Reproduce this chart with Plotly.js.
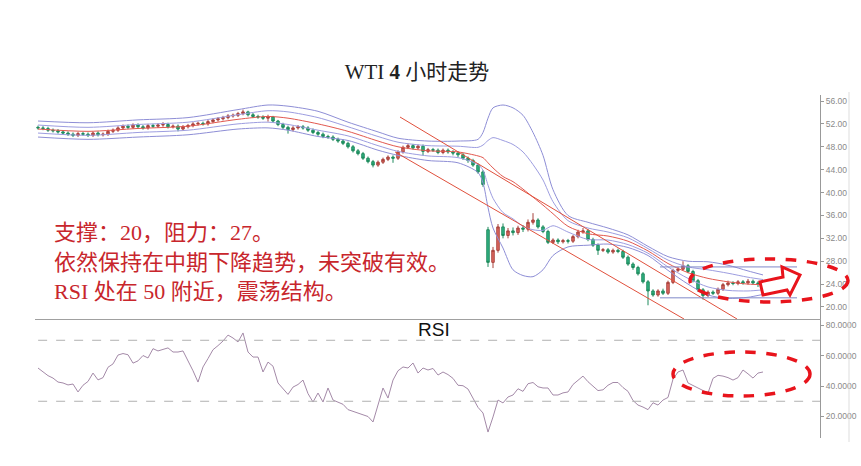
<!DOCTYPE html>
<html><head><meta charset="utf-8">
<script src="https://cdn.plot.ly/plotly-3.0.1.min.js"></script>
<style>body{margin:0;background:#fff}#chart{width:861px;height:466px}</style>
</head><body><div id="chart"></div>
<script>
// ---- WTI 4H candles ----
const openP = [51.4,51.3,51.2,50.9,50.8,50.6,50.4,50.2,50.0,50.3,
 50.2,50.0,50.4,50.1,50.2,50.7,50.9,51.3,51.6,51.4,
 51.8,51.5,51.3,51.7,51.6,51.8,51.9,51.5,51.6,51.1,
 51.5,51.7,52.0,52.1,52.0,52.4,52.7,52.9,53.1,53.4,
 53.5,53.8,54.1,53.6,53.3,53.2,53.0,53.2,52.5,51.9,
 51.4,51.0,51.3,51.5,51.3,50.9,50.5,50.2,49.8,49.7,
 49.3,49.0,48.6,48.0,47.3,46.8,46.0,45.4,44.8,45.3,
 45.8,46.2,46.0,47.1,47.9,48.2,47.8,48.1,47.2,47.5,
 47.4,47.0,47.4,47.1,46.9,46.6,46.0,45.6,44.8,43.6,
 33.5,27.8,29.9,34.0,32.5,33.3,33.0,33.8,33.6,34.8,
 35.2,34.0,33.2,31.3,31.7,31.4,31.6,31.5,32.3,33.1,
 33.3,31.8,30.8,29.9,30.0,29.6,29.9,29.7,28.7,27.5,
 26.9,25.8,24.4,22.8,22.1,22.8,22.4,24.3,26.4,26.6,
 27.2,26.2,24.6,23.0,22.0,22.6,22.4,23.1,23.9,24.2,
 24.1,24.4,24.2,24.5,24.2,24.1];
const highP = [51.7,51.6,51.5,51.2,51.1,50.9,50.7,50.5,50.6,50.6,
 50.5,50.7,50.7,50.5,51.0,51.2,51.6,51.9,51.9,52.1,
 52.1,51.8,52.0,52.0,52.1,52.3,52.2,51.9,51.9,51.8,
 52.0,52.3,52.4,52.4,52.7,53.0,53.2,53.4,53.7,53.8,
 54.1,54.5,54.3,53.9,53.6,53.5,53.6,53.4,52.7,52.2,
 51.7,51.6,51.8,51.8,51.6,51.2,50.8,50.5,50.1,50.0,
 49.6,49.3,48.9,48.3,47.6,47.1,46.3,45.7,45.6,46.1,
 46.5,46.5,47.4,48.2,48.6,48.5,48.4,48.4,47.8,47.8,
 47.7,47.7,47.7,47.4,47.2,46.9,46.3,45.9,45.1,43.9,
 34.0,30.5,34.5,34.6,33.8,33.9,34.2,34.3,35.3,36.4,
 35.5,34.3,33.5,32.0,32.0,31.9,31.9,32.6,33.5,33.8,
 33.6,32.1,31.1,30.3,30.3,30.2,30.2,30.0,29.0,27.8,
 27.2,26.1,24.7,23.1,23.1,23.2,24.6,26.7,27.0,28.0,
 27.5,26.5,24.9,23.3,22.9,22.9,23.4,24.2,24.6,24.5,
 24.7,24.7,24.9,24.8,24.5,24.7];
const lowP = [51.0,50.9,50.6,50.5,50.3,50.1,49.9,49.7,49.7,49.9,
 49.7,49.7,49.8,49.8,49.9,50.4,50.6,51.0,51.1,51.1,
 51.2,51.0,51.0,51.3,51.3,51.5,51.2,51.2,50.7,50.8,
 51.2,51.4,51.7,51.7,51.7,52.1,52.4,52.6,52.8,53.1,
 53.2,53.5,53.3,53.0,52.9,52.7,52.4,52.2,51.6,51.1,
 50.3,50.7,51.0,51.0,50.6,50.2,49.9,49.5,49.4,49.0,
 48.7,48.3,47.7,47.0,46.5,45.7,45.1,44.4,44.5,45.0,
 45.5,45.2,45.7,46.8,47.6,47.5,47.5,46.5,46.9,47.1,
 46.7,46.7,46.8,46.5,46.2,45.7,45.2,44.5,43.3,41.0,
 27.0,26.8,29.5,32.0,32.0,32.5,32.6,33.1,33.2,34.4,
 33.7,32.9,31.0,31.0,31.0,31.1,31.1,31.2,32.0,32.8,
 31.5,30.5,29.1,29.6,29.3,29.3,29.4,28.4,27.2,26.5,
 25.5,24.1,20.3,21.8,21.8,22.1,22.1,24.0,26.1,26.3,
 25.9,24.3,22.7,21.3,21.7,22.1,22.1,22.8,23.6,23.8,
 23.8,23.9,23.9,23.9,23.5,23.8];
const closeP = [51.3,51.2,50.9,50.8,50.6,50.4,50.2,50.0,50.3,50.2,
 50.0,50.4,50.1,50.2,50.7,50.9,51.3,51.6,51.4,51.8,
 51.5,51.3,51.7,51.6,51.8,51.9,51.5,51.6,51.1,51.5,
 51.7,52.0,52.1,52.0,52.4,52.7,52.9,53.1,53.4,53.5,
 53.8,54.1,53.6,53.3,53.2,53.0,53.2,52.5,51.9,51.4,
 51.0,51.3,51.5,51.3,50.9,50.5,50.2,49.8,49.7,49.3,
 49.0,48.6,48.0,47.3,46.8,46.0,45.4,44.8,45.3,45.8,
 46.2,46.0,47.1,47.9,48.2,47.8,48.1,47.2,47.5,47.4,
 47.0,47.4,47.1,46.9,46.6,46.0,45.6,44.8,43.6,41.4,
 27.8,29.9,34.0,32.5,33.3,33.0,33.8,33.6,34.8,35.2,
 34.0,33.2,31.3,31.7,31.4,31.6,31.5,32.3,33.1,33.3,
 31.8,30.8,29.9,30.0,29.6,29.9,29.7,28.7,27.5,26.9,
 25.8,24.4,22.8,22.1,22.8,22.4,24.3,26.4,26.6,27.2,
 26.2,24.6,23.0,22.0,22.6,22.4,23.1,23.9,24.2,24.1,
 24.4,24.2,24.5,24.2,24.1,24.4];

// ---- Bollinger band lines, read at sample bars ----
const bandBar = [0,10,20,30,40,46,50,56,62,68,72,78,84,88,89,90,91,93,95,97,99,101,103,106,110,114,118,122,126,130,134,138,142,145];
const bandUpper2 = [52.5,52.2,52.7,53.1,54.5,55.3,55.1,54.2,52.3,50.6,49.5,49.0,49.0,49.3,50.5,53.0,54.8,55.3,54.8,53.5,50.5,46.5,40.5,36.0,34.8,33.8,32.6,30.6,28.8,28.0,27.9,27.3,26.3,25.6];
const bandUpper1 = [51.8,51.4,51.9,52.3,53.6,54.3,54.1,53.1,51.5,49.8,48.8,48.2,48.1,47.9,48.3,49.1,49.6,49.1,48.4,47.1,44.9,42.2,38.4,35.1,33.8,33.1,32.1,30.2,28.2,27.0,26.5,25.9,25.2,24.8];
const bandMid = [51.1,50.7,51.2,51.6,52.8,53.3,53.0,52.0,50.7,49.0,48.0,47.3,47.1,46.4,46.1,45.2,44.3,42.8,41.9,40.6,39.2,37.8,36.3,34.1,32.8,32.4,31.5,29.8,27.6,26.0,25.0,24.4,24.0,23.9];
const bandLower1 = [50.4,50.0,50.5,50.9,52.0,52.3,51.9,50.9,49.9,48.2,47.2,46.4,46.1,44.9,43.9,41.3,39.0,36.5,35.4,34.1,33.5,33.4,34.2,33.1,31.8,31.7,30.9,29.4,27.0,25.0,23.5,22.9,22.8,23.0];
const bandLower2 = [49.7,49.3,49.7,50.1,51.1,51.3,50.9,49.8,49.1,47.4,46.5,45.6,45.2,43.5,41.7,37.4,33.8,30.3,26.5,25.5,25.3,26.5,29.0,30.5,30.8,31.0,30.4,29.0,26.4,24.0,22.1,21.5,21.7,22.2];

// ---- RSI (null = no plotted point) ----
const rsi = [51.8,49.5,46.8,45.2,42.6,42.0,40.7,41.3,36.1,40.5,
 43.0,48.5,44.0,45.5,52.3,54.5,60.3,61.3,60.5,55.0,
 56.5,60.0,58.4,64.5,63.0,64.0,65.0,62.3,62.3,63.0,
 57.0,50.0,42.6,52.5,58.0,63.8,66.5,69.5,73.4,71.5,
 68.9,74.8,62.3,59.0,59.0,49.2,55.7,53.0,42.0,38.0,
 34.5,39.3,41.0,43.9,35.0,29.5,35.4,29.5,38.7,30.8,
 29.5,28.0,24.5,23.5,22.0,21.0,20.0,16.4,27.5,38.7,
 32.1,43.9,50.0,52.5,51.8,55.1,48.5,51.8,50.5,51.5,
 47.2,49.2,47.5,45.0,40.5,40.2,38.0,31.5,26.0,22.3,
 9.8,19.7,30.8,28.9,32.8,34.1,38.2,36.5,41.5,42.3,
 39.5,38.7,38.7,34.1,34.1,35.5,36.1,41.0,43.5,46.5,
 42.8,40.0,37.0,37.5,40.5,42.3,42.3,39.0,36.5,30.5,
 27.5,26.2,24.5,29.0,27.5,30.8,32.5,44.5,49.2,50.5,
 42.0,null,null,null,35.4,45.0,47.0,46.5,45.5,43.9,
 45.5,50.5,48.0,45.2,48.5,49.2];
const rsiLevels = [70, 30];
const priceTicks = [20,24,28,32,36,40,44,48,52,56];
const rsiTicks = [20,40,60,80];

// analyst drawings (bar index, price)
const trendLines = [[72.4,53.2,139.8,17.9],[71.4,47.1,129.2,17.9]];
const levelLines = [[124.4,27.0,151.8,27.0],[124.4,21.6,151.8,21.6]];

const bars = closeP.map((_, i) => i);

const bandColor = '#8e8ed6';
const traces = [];
const bandSet = [[bandUpper2,bandColor],[bandUpper1,'#9d9de0'],[bandMid,'#e2584f'],[bandLower1,'#9d9de0'],[bandLower2,bandColor]];
bandSet.forEach(([arr,col]) => traces.push({
  type:'scatter', mode:'lines', x:bandBar, y:arr, xaxis:'x', yaxis:'y',
  line:{color:col, width:1, shape:'spline', smoothing:0.8}, hoverinfo:'skip'
}));
traces.push({
  type:'candlestick', x:bars, open:openP, high:highP, low:lowP, close:closeP,
  xaxis:'x', yaxis:'y', whiskerwidth:0,
  increasing:{line:{color:'#a8423c', width:1}, fillcolor:'#e06a62'},
  decreasing:{line:{color:'#1f8a5c', width:1}, fillcolor:'#30b285'},
  hoverinfo:'skip'
});
traces.push({
  type:'scatter', mode:'lines', x:bars, y:rsi, xaxis:'x2', yaxis:'y2', connectgaps:true,
  line:{color:'#a48aa8', width:1}, hoverinfo:'skip'
});

const L = 35, R = 820, T = 95, B = 438;
const W = R - L, H = B - T;
const px = v => (v - L) / W, py = v => (B - v) / H;

const shapes = [];
rsiLevels.forEach(v => shapes.push({type:'line', xref:'paper', yref:'y2', x0:0.004, x1:1, y0:v, y1:v,
  line:{color:'#b0b0b0', width:1, dash:'dash'}}));
trendLines.forEach(t => shapes.push({type:'line', xref:'x', yref:'y', x0:t[0], y0:t[1], x1:t[2], y1:t[3],
  line:{color:'#e0503c', width:1}}));
levelLines.forEach(t => shapes.push({type:'line', xref:'x', yref:'y', x0:t[0], y0:t[1], x1:t[2], y1:t[3],
  line:{color:'#7f88c8', width:1}}));
// right frame
shapes.push({type:'line', xref:'paper', yref:'paper', x0:px(849), x1:px(849), y0:py(442), y1:py(92), line:{color:'#dddddd', width:1}});
// ellipses
shapes.push({type:'circle', xref:'paper', yref:'paper', x0:px(690), x1:px(848), y0:py(302), y1:py(259),
  line:{color:'#e8141c', width:3.5, dash:'dash'}});
shapes.push({type:'circle', xref:'paper', yref:'paper', x0:px(673), x1:px(810), y0:py(396), y1:py(352),
  line:{color:'#e8141c', width:3.5, dash:'dash'}});
// arrow
const arrowPts = [[760,282],[783,277],[782,267],[800,275],[790,295],[787,290],[763,295]];
shapes.push({type:'path', xref:'paper', yref:'paper',
  path: 'M' + arrowPts.map(p => px(p[0]).toFixed(5) + ',' + py(p[1]).toFixed(5)).join(' L') + ' Z',
  fillcolor:'#ffffff', line:{color:'#e8141c', width:3}});

const redFont = {family:"'Liberation Serif','Noto Sans CJK SC',serif", size:22, color:'#c8262c'};
const annotations = [
  {text:'支撑：20，阻力：27。', xref:'paper', yref:'paper', x:px(52), y:py(232), xanchor:'left', yanchor:'middle', showarrow:false, font:redFont},
  {text:'依然保持在中期下降趋势，未突破有效。', xref:'paper', yref:'paper', x:px(52), y:py(262), xanchor:'left', yanchor:'middle', showarrow:false, font:redFont},
  {text:'RSI 处在 50 附近，震荡结构。', xref:'paper', yref:'paper', x:px(52), y:py(291), xanchor:'left', yanchor:'middle', showarrow:false, font:redFont},
  {text:'RSI', xref:'paper', yref:'paper', x:px(434), y:py(329), xanchor:'center', yanchor:'middle', showarrow:false,
   font:{family:'Liberation Sans, Arial, sans-serif', size:19, color:'#111'}}
];

const tickFont = {family:'Liberation Sans, Arial, sans-serif', size:8.5, color:'#8a8a8a'};
const layout = {
  width:861, height:466, paper_bgcolor:'#ffffff', plot_bgcolor:'#ffffff',
  margin:{l:L, r:861-R, t:T, b:466-B}, showlegend:false,
  title:{text:'WTI <b>4</b> 小时走势', x:417/861, y:1-72/466, xanchor:'center', yanchor:'middle', xref:'container', yref:'container',
    font:{family:"'Liberation Serif','Noto Sans CJK SC',serif", size:21, color:'#222'}},
  xaxis:{domain:[0,1], range:[-0.6,156.4], anchor:'y', showgrid:false, zeroline:false, showticklabels:false, ticks:'',
    showline:true, linecolor:'#a0a0a0', linewidth:1, rangeslider:{visible:false}, fixedrange:true},
  xaxis2:{domain:[0,1], range:[-0.6,156.4], anchor:'y2', showgrid:false, zeroline:false, showticklabels:false, ticks:'', showline:false},
  yaxis:{domain:[(B-319)/H,1], range:[17.9,57.05], side:'right', anchor:'x', showgrid:false, zeroline:false,
    tickvals:priceTicks, tickformat:'.2f', ticks:'outside', ticklen:3, tickcolor:'#999', tickfont:tickFont,
    showline:true, linecolor:'#999', linewidth:1},
  yaxis2:{domain:[0,(B-320)/H], range:[5.9,83.3], side:'right', anchor:'x2', showgrid:false, zeroline:false,
    tickvals:rsiTicks, tickformat:'.4f', ticks:'outside', ticklen:3, tickcolor:'#999', tickfont:tickFont,
    showline:true, linecolor:'#999', linewidth:1},
  shapes:shapes, annotations:annotations
};
Plotly.newPlot('chart', traces, layout, {staticPlot:true});
</script></body></html>
